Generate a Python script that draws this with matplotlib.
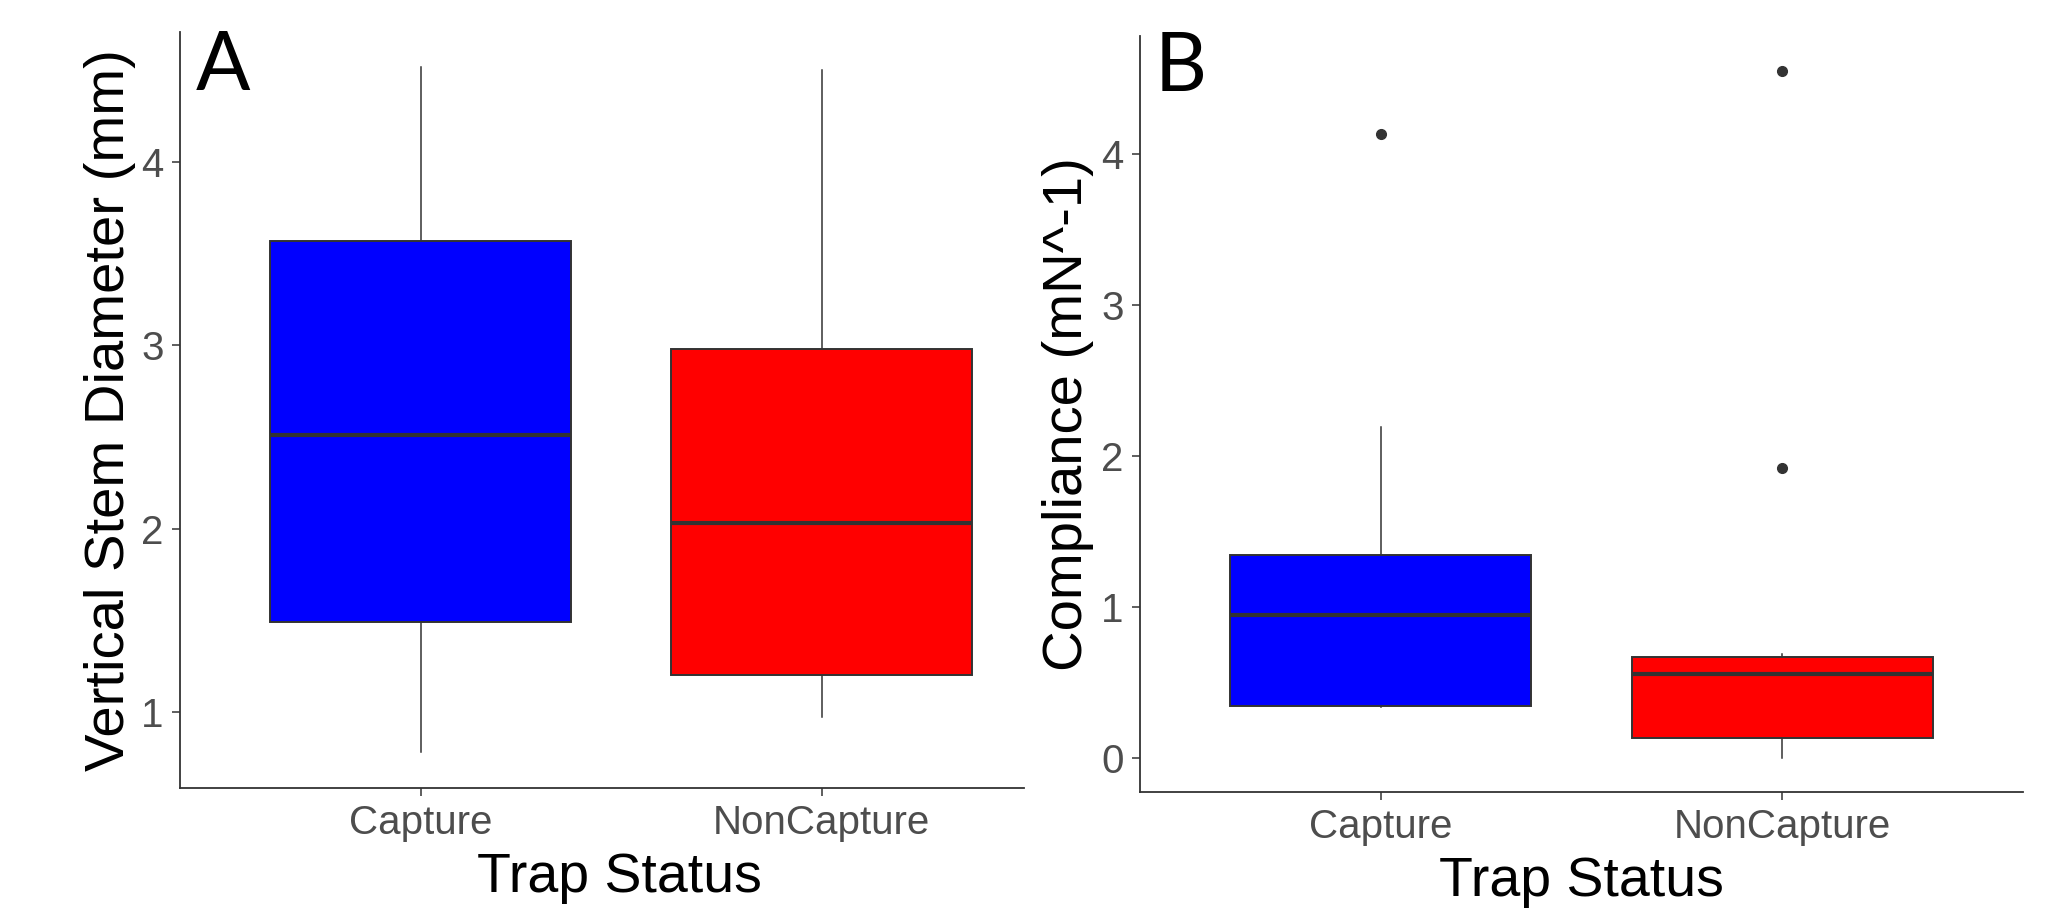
import matplotlib
matplotlib.use("Agg")
import matplotlib.pyplot as plt

# data
categories = ["Capture", "NonCapture"]
box_colors = ["#0000FF", "#FF0000"]

# panel A: vertical stem diameter (mm)
diam_whislo = [0.78, 0.975]
diam_q1 = [1.49, 1.20]
diam_med = [2.51, 2.03]
diam_q3 = [3.57, 2.98]
diam_whishi = [4.52, 4.50]
diam_fliers = [[], []]

# panel B: compliance (mN^-1)
comp_whislo = [0.335, 0.0]
comp_q1 = [0.345, 0.13]
comp_med = [0.948, 0.557]
comp_q3 = [1.34, 0.668]
comp_whishi = [2.19, 0.687]
comp_fliers = [[4.13], [4.55, 1.92]]

W, H = 2052, 909
plt.rcParams['font.family'] = ['Liberation Sans', 'DejaVu Sans']

fig = plt.figure(figsize=(W / 100, H / 100), dpi=100)


def make_stats(lo, q1, med, q3, hi, fl):
    stats = []
    for i in range(len(categories)):
        stats.append({'label': categories[i], 'whislo': lo[i], 'q1': q1[i],
                      'med': med[i], 'q3': q3[i], 'whishi': hi[i],
                      'fliers': fl[i]})
    return stats


def draw_panel(ax, stats, ylabel, yticks, ylim, xlim, label_x):
    bp = ax.bxp(stats, positions=[1, 2], widths=0.75, patch_artist=True,
                showcaps=False,
                boxprops=dict(edgecolor='#333333', linewidth=1.4),
                medianprops=dict(color='#333333', linewidth=3.0),
                whiskerprops=dict(color='#333333', linewidth=1.1),
                flierprops=dict(marker='o', markerfacecolor='#333333',
                                markeredgecolor='#333333', markersize=7))
    for patch, c in zip(bp['boxes'], box_colors):
        patch.set_facecolor(c)
    ax.set_xlim(*xlim)
    ax.set_ylim(*ylim)
    ax.set_yticks(yticks)
    ax.set_yticklabels([str(t) for t in yticks])
    for s in ['top', 'right']:
        ax.spines[s].set_visible(False)
    for s in ['left', 'bottom']:
        ax.spines[s].set_color('#333333')
        ax.spines[s].set_linewidth(1.3)
    ax.tick_params(axis='both', colors='#333333', width=1.1, length=5.8,
                   labelsize=29, labelcolor='#4D4D4D')
    ax.tick_params(axis='y', pad=6)
    ax.tick_params(axis='x', pad=6)
    ax.set_ylabel(ylabel, fontsize=40.5, color='black')
    ax.set_xlabel('Trap Status', fontsize=40, color='black')
    ax.xaxis.set_label_coords(label_x, -0.085)
    ax.xaxis.label.set_va('top')


# panel A (right part cropped in original)
axA = fig.add_axes([180 / W, 1 - 788 / H, (1024 - 180) / W, (788 - 32) / H])
draw_panel(axA, make_stats(diam_whislo, diam_q1, diam_med, diam_q3,
                           diam_whishi, diam_fliers),
           'Vertical Stem Diameter (mm)', [1, 2, 3, 4], (0.585, 4.71),
           (0.4, 2.505), (619 - 180) / (1024 - 180))
axA.yaxis.set_label_coords(-(180 - 136) / (1024 - 180), 0.5)

# panel B
axB = fig.add_axes([1140 / W, 1 - 792 / H, (2023 - 1140) / W, (792 - 36) / H])
draw_panel(axB, make_stats(comp_whislo, comp_q1, comp_med, comp_q3,
                           comp_whishi, comp_fliers),
           'Compliance (mN^-1)', [0, 1, 2, 3, 4], (-0.2275, 4.78),
           (0.4, 2.6), 0.5)
axB.yaxis.set_label_coords(-(1140 - 1094) / (2023 - 1140), 0.5)

fig.text(196 / W, 1 - 90 / H, 'A', fontsize=58, family=['Lato', 'DejaVu Sans'],
         va='baseline', ha='left')
fig.text(1155 / W, 1 - 91 / H, 'B', fontsize=58, family=['Lato', 'DejaVu Sans'],
         va='baseline', ha='left')

fig.savefig('out.png', dpi=100)
